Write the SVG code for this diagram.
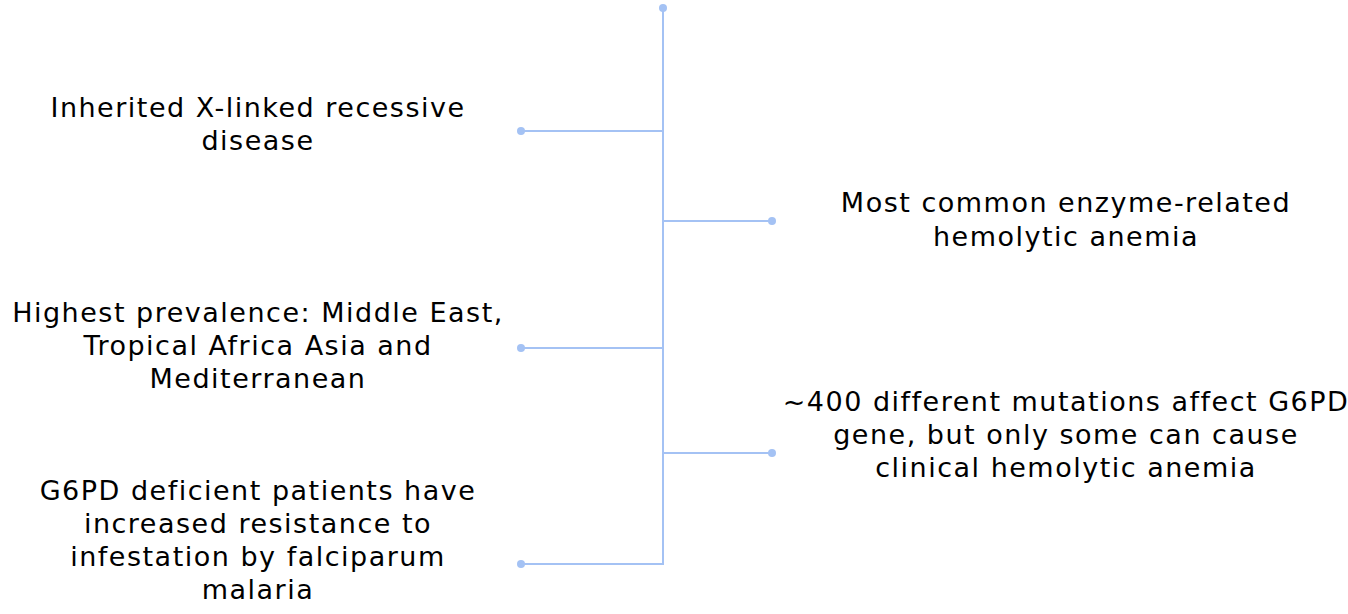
<svg xmlns="http://www.w3.org/2000/svg" width="1348" height="614" viewBox="0 0 1348 614">
<style>
.ln{stroke:#a4c2f4;stroke-width:2;fill:none}
.dot{fill:#a4c2f4}
.t{font-family:"DejaVu Sans","Liberation Sans",sans-serif;font-size:27px;letter-spacing:1.5px;fill:#000;text-anchor:middle}
</style>
<rect width="1348" height="614" fill="#fff"/>
<g id="connectors">
<path class="ln" d="M663 8V564H521"/>
<path class="ln" d="M663 131H521"/>
<path class="ln" d="M663 221H772"/>
<path class="ln" d="M663 348H521"/>
<path class="ln" d="M663 453H772"/>
<circle class="dot" cx="663" cy="8" r="4"/>
<circle class="dot" cx="521" cy="131" r="4"/>
<circle class="dot" cx="772" cy="221" r="4"/>
<circle class="dot" cx="521" cy="348" r="4"/>
<circle class="dot" cx="772" cy="453" r="4"/>
<circle class="dot" cx="521" cy="564" r="4"/>
</g>
<g id="node1"><text class="t" x="258" y="117">Inherited X-linked recessive<tspan x="258" dy="33">disease</tspan></text></g>
<g id="node2"><text class="t" x="1066" y="212">Most common enzyme-related<tspan x="1066" dy="34">hemolytic anemia</tspan></text></g>
<g id="node3"><text class="t" x="258" y="322">Highest prevalence: Middle East,<tspan x="258" dy="33">Tropical Africa Asia and</tspan><tspan x="258" dy="33">Mediterranean</tspan></text></g>
<g id="node4"><text class="t" x="1066" y="411">~400 different mutations affect G6PD<tspan x="1066" dy="33">gene, but only some can cause</tspan><tspan x="1066" dy="33">clinical hemolytic anemia</tspan></text></g>
<g id="node5"><text class="t" x="258" y="500">G6PD deficient patients have<tspan x="258" dy="33">increased resistance to</tspan><tspan x="258" dy="33">infestation by falciparum</tspan><tspan x="258" dy="33">malaria</tspan></text></g>
</svg>
